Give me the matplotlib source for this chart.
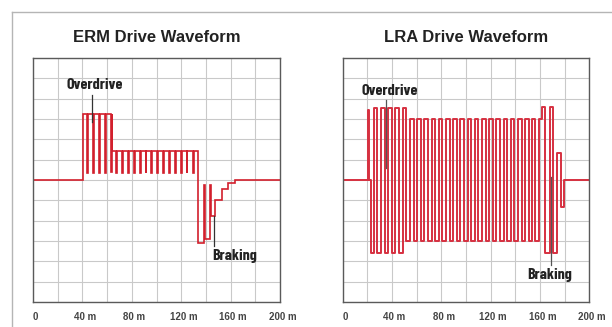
import numpy as np
import matplotlib
matplotlib.use("Agg")
import matplotlib.pyplot as plt
from matplotlib.lines import Line2D
from matplotlib import font_manager as fm

# ---------------- data ----------------
x_ticks = [0, 40, 80, 120, 160, 200]
x_tick_labels = ["0", "40 m", "80 m", "120 m", "160 m", "200 m"]

# ERM: drive level steps (start time, level)
erm_level_t = [0.0, 40.3, 64.3, 134.0, 139.6, 144.2, 147.6, 153.4, 158.1, 163.5]
erm_level_v = [0.0, 3.25, 1.42, -3.08, -2.92, -1.75, -1.0, -0.45, -0.15, 0.0]
# ERM: short dips / spikes inside the drive (time, value)
erm_dip_t = [43.8, 48.6, 53.5, 58.6, 63.4,
             67.6, 72.4, 77.0, 81.6, 86.5, 91.1, 95.9, 100.5, 105.4, 110.0,
             114.9, 119.7, 124.3, 129.2,
             138.8, 143.4]
erm_dip_v = [0.33, 0.33, 0.33, 0.33, 0.40,
             0.33, 0.33, 0.33, 0.33, 0.33, 0.33, 0.33, 0.33, 0.33, 0.33,
             0.33, 0.33, 0.33, 0.33,
             -0.25, -0.25]
erm_dip_width = 0.8

# LRA: half-cycle centres and levels
lra_center_t = [20.8, 22.6, 24.0, 26.7, 29.7, 32.5, 35.5, 38.4, 41.4, 44.2, 47.2, 50.0,
                53.1, 56.0, 59.0, 61.9, 64.9, 67.7, 70.7, 73.6, 76.6, 79.4,
                82.4, 85.3, 88.2, 91.1, 94.0, 96.9, 99.9, 102.8, 105.7, 108.6,
                111.5, 114.5, 117.4, 120.3, 123.2, 126.1, 129.0, 132.0, 134.9, 137.8,
                140.7, 143.6, 146.5, 149.5, 152.4, 155.1, 157.6, 160.4,
                162.6, 166.2, 169.5, 172.2, 175.4, 178.4]
lra_center_v = [3.45, 0.0, -3.58, 3.55, -3.58, 3.55, -3.58, 3.55, -3.58, 3.55, -3.58, 3.55,
                -3.0, 3.0, -3.0, 3.0, -3.0, 3.0, -3.0, 3.0, -3.0, 3.0,
                -3.0, 3.0, -3.0, 3.0, -3.0, 3.0, -3.0, 3.0, -3.0, 3.0,
                -3.0, 3.0, -3.0, 3.0, -3.0, 3.0, -3.0, 3.0, -3.0, 3.0,
                -3.0, 3.0, -3.0, 3.0, -3.0, 3.0, -3.0, 3.0,
                3.6, -3.6, 3.6, -3.6, 1.35, -1.35]
lra_start = 20.3
lra_end = 179.7

RED = "#d21f2c"
RED2 = "#d63040"
GRID = "#c9c9c9"
SPINE = "#5a5a5a"
TXT = "#222222"

_bold_names = {f.name for f in fm.fontManager.ttflist
               if f.weight in (600, 700, 800, "bold", "semibold", "heavy")}
if "Barlow Condensed" in _bold_names:
    NARROW = dict(family=["Barlow Condensed", "DejaVu Sans"], fontsize=11.5)
elif "Archivo Narrow" in _bold_names:
    NARROW = dict(family=["Archivo Narrow", "DejaVu Sans"], fontsize=10)
else:
    NARROW = dict(family=["DejaVu Sans"], fontstretch="condensed", fontsize=9)


def build_erm(level_t, level_v, dip_t, dip_v, w, tmax=200.0):
    edges = sorted(set(list(level_t) + list(dip_t) + [t + w for t in dip_t] + [tmax]))
    xs, ys = [], []
    for a, b in zip(edges[:-1], edges[1:]):
        m = 0.5 * (a + b)
        v = level_v[np.searchsorted(level_t, m, side="right") - 1]
        for t, dv in zip(dip_t, dip_v):
            if t <= m < t + w:
                v = dv
        xs += [a, b]
        ys += [v, v]
    return xs, ys


def build_lra(ct, cv, start, end, tmax=200.0):
    inner = [0.5 * (a + b) for a, b in zip(ct[:-1], ct[1:])]
    edges = [start] + inner + [end]
    xs, ys = [0.0, start], [0.0, 0.0]
    for i, v in enumerate(cv):
        xs += [edges[i], edges[i + 1]]
        ys += [v, v]
    xs += [end, tmax]
    ys += [0.0, 0.0]
    return xs, ys


fig = plt.figure(figsize=(6.12, 3.27), dpi=100)
fig.patch.set_facecolor("white")

# card outline
fig.add_artist(Line2D([12 / 612, 12 / 612], [0, 1 - 12 / 327], color="#b5b5b5", lw=1.0,
                      transform=fig.transFigure))
fig.add_artist(Line2D([12 / 612, 1], [1 - 12 / 327, 1 - 12 / 327], color="#b5b5b5", lw=1.0,
                      transform=fig.transFigure))

ax1 = fig.add_axes([33 / 612, 1 - 302 / 327, 247 / 612, 244 / 327])
ax2 = fig.add_axes([342.7 / 612, 1 - 302 / 327, 246.6 / 612, 244 / 327])

for ax, title in [(ax1, "ERM Drive Waveform"), (ax2, "LRA Drive Waveform")]:
    ax.set_xlim(0, 200)
    ax.set_ylim(-6, 6)
    ax.set_xticks(np.arange(0, 201, 20))
    ax.set_yticks(np.arange(-6, 7, 1))
    ax.grid(True, color=GRID, lw=0.8)
    ax.tick_params(length=0, labelleft=False, labelbottom=False)
    for s in ax.spines.values():
        s.set_color(SPINE)
        s.set_linewidth(1.0)
    ax.set_axisbelow(True)
    ax.text(0.5, 1.082, title, transform=ax.transAxes, ha="center", va="center",
            fontsize=12, fontweight="bold", family=["Liberation Sans", "DejaVu Sans"],
            color=TXT)
    for xt, lab in zip(x_ticks, x_tick_labels):
        ax.text(xt + 2, -6.5, lab, ha="center", va="top", fontsize=7,
                fontweight="bold", family=["Liberation Sans", "DejaVu Sans"],
                color="#444444", clip_on=False)

ex, ey = build_erm(erm_level_t, erm_level_v, erm_dip_t, erm_dip_v, erm_dip_width)
ax1.plot(ex, ey, color=RED, lw=1.2, solid_joinstyle="miter")

lx, ly = build_lra(lra_center_t, lra_center_v, lra_start, lra_end)
ax2.plot(lx, ly, color=RED2, lw=1.4)

# annotations
ax1.plot([47.6, 47.6], [4.2, 2.85], color="#333333", lw=0.9)
ax1.text(50.3, 4.65, "Overdrive", ha="center", va="center",
         fontweight="bold", color=TXT, **NARROW)
ax1.plot([146.2, 146.2], [-1.75, -3.25], color="#333333", lw=0.9)
ax1.text(145.2, -3.75, "Braking", ha="left", va="center",
         fontweight="bold", color=TXT, **NARROW)

ax2.plot([35.1, 35.1], [3.95, 0.6], color="#555555", lw=0.9)
ax2.text(38.4, 4.4, "Overdrive", ha="center", va="center",
         fontweight="bold", color=TXT, **NARROW)
ax2.plot([168.9, 168.9], [0.15, -4.2], color="#555555", lw=0.9)
ax2.text(168.2, -4.65, "Braking", ha="center", va="center",
         fontweight="bold", color=TXT, **NARROW)

fig.savefig("out.png", dpi=100, facecolor="white")
